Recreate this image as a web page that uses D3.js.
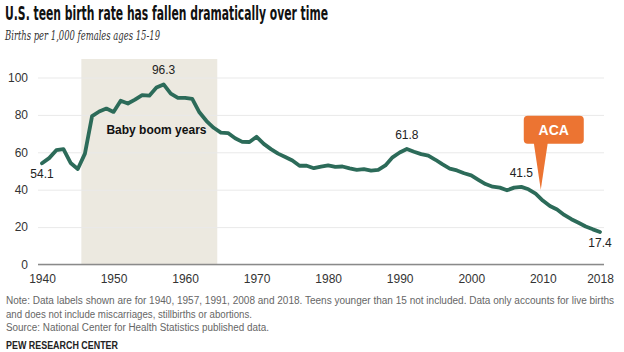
<!DOCTYPE html>
<html>
<head>
<meta charset="utf-8">
<script src="https://cdn.jsdelivr.net/npm/d3@7"></script>
<style>
  html, body { margin: 0; padding: 0; background: #fff; }
  svg { display: block; }
</style>
</head>
<body>
<svg id="chart" width="624" height="352"></svg>
<script>
// ---- Data ----
const years = [1940,1941,1942,1943,1944,1945,1946,1947,1948,1949,
  1950,1951,1952,1953,1954,1955,1956,1957,1958,1959,
  1960,1961,1962,1963,1964,1965,1966,1967,1968,1969,
  1970,1971,1972,1973,1974,1975,1976,1977,1978,1979,
  1980,1981,1982,1983,1984,1985,1986,1987,1988,1989,
  1990,1991,1992,1993,1994,1995,1996,1997,1998,1999,
  2000,2001,2002,2003,2004,2005,2006,2007,2008,2009,
  2010,2011,2012,2013,2014,2015,2016,2017,2018];
const rates = [54.1,56.9,61.1,61.7,54.3,51.1,59.3,79.3,81.8,83.4,
  81.6,87.6,86.1,88.2,90.6,90.3,94.6,96.3,91.4,89.1,
  89.1,88.6,81.4,76.7,73.1,70.5,70.3,67.5,65.6,65.5,
  68.3,64.5,61.7,59.3,57.5,55.6,52.8,52.8,51.5,52.3,
  53.0,52.2,52.4,51.4,50.6,51.0,50.2,50.6,53.0,57.3,
  59.9,61.8,60.3,59.0,58.2,56.0,53.5,51.3,50.3,48.8,
  47.7,45.3,43.0,41.6,41.1,39.7,41.1,41.5,40.2,37.9,
  34.2,31.3,29.4,26.5,24.2,22.3,20.3,18.8,17.4];
const yTicks = [0, 20, 40, 60, 80, 100];
const xTicks = [1940, 1950, 1960, 1970, 1980, 1990, 2000, 2010, 2018];
const labelYears = [1940, 1957, 1991, 2007, 2018];
const labelSide  = ["below", "above", "above", "above", "below"];
const boomYears = [1946, 1964];
const boomLabel = "Baby boom years";
const acaYear = 2010;
const acaLabel = "ACA";
const title = "U.S. teen birth rate has fallen dramatically over time";
const subtitle = "Births per 1,000 females ages 15-19";
const notes = [
  "Note: Data labels shown are for 1940, 1957, 1991, 2008 and 2018. Teens younger than 15 not included. Data only accounts for live births",
  "and does not include miscarriages, stillbirths or abortions.",
  "Source: National Center for Health Statistics published data."
];
const credit = "PEW RESEARCH CENTER";

// ---- Setup ----
const svg = d3.select("#chart");
const sans = "'Liberation Sans', Arial, sans-serif";
const x = d3.scaleLinear().domain([1940, 2018]).range([42, 600]);
const y = d3.scaleLinear().domain([0, 100]).range([264.5, 77.5]);
const data = years.map((yr, i) => ({ year: yr, value: rates[i] }));

// Title & subtitle
svg.append("text").attr("x", 5).attr("y", 20)
  .attr("font-family", "'Liberation Sans Narrow', 'DejaVu Sans Condensed', Arial, sans-serif")
  .attr("font-weight", "bold").attr("font-size", 20).attr("fill", "#111")
  .attr("textLength", 323).attr("lengthAdjust", "spacingAndGlyphs")
  .text(title);
svg.append("text").attr("x", 5).attr("y", 39.5)
  .attr("font-family", "'DejaVu Serif', 'Liberation Serif', serif")
  .attr("font-style", "italic").attr("font-size", 12.5).attr("fill", "#333")
  .attr("textLength", 155).attr("lengthAdjust", "spacingAndGlyphs")
  .text(subtitle);

// Baby boom shading
svg.append("rect")
  .attr("x", x(boomYears[0] - 0.5))
  .attr("width", x(boomYears[1] + 0.5) - x(boomYears[0] - 0.5))
  .attr("y", 59)
  .attr("height", y(0) - 59)
  .attr("fill", "#ECE9E0");

// Y axis with gridlines
const gridLeft = 38, gridRight = 604;
const yAxis = svg.append("g")
  .attr("transform", `translate(${gridLeft},0)`)
  .call(d3.axisLeft(y).tickValues(yTicks).tickSize(-(gridRight - gridLeft)).tickPadding(10));
yAxis.select(".domain").remove();
yAxis.selectAll(".tick line").attr("stroke", "#e9e9e9").attr("stroke-width", 1);
yAxis.selectAll(".tick text").attr("font-family", sans).attr("font-size", 12).attr("fill", "#333");

// X axis
const xAxis = svg.append("g")
  .attr("transform", `translate(0,${y(0)})`)
  .call(d3.axisBottom(x).tickValues(xTicks).tickFormat(d3.format("d")).tickSize(0).tickPadding(10));
xAxis.select(".domain").remove();
xAxis.selectAll(".tick text").attr("font-family", sans).attr("font-size", 12).attr("fill", "#333");
svg.append("line")
  .attr("x1", gridLeft).attr("x2", gridRight)
  .attr("y1", y(0)).attr("y2", y(0))
  .attr("stroke", "#8a8a8a").attr("stroke-width", 1.5);

// Baby boom label
svg.append("text")
  .attr("x", x(1956)).attr("y", y(70))
  .attr("text-anchor", "middle")
  .attr("font-family", sans).attr("font-weight", "bold").attr("font-size", 12).attr("fill", "#111")
  .text(boomLabel);

// Line
const line = d3.line().x(d => x(d.year)).y(d => y(d.value)).curve(d3.curveLinear);
svg.append("path").datum(data)
  .attr("d", line)
  .attr("fill", "none")
  .attr("stroke", "#2C6B59")
  .attr("stroke-width", 3.8)
  .attr("stroke-linejoin", "round")
  .attr("stroke-linecap", "round");

// Data labels
labelYears.forEach((yr, i) => {
  const d = data.find(p => p.year === yr);
  svg.append("text")
    .attr("x", x(d.year))
    .attr("y", y(d.value) + (labelSide[i] === "above" ? -10 : 15))
    .attr("text-anchor", "middle")
    .attr("font-family", sans).attr("font-size", 12).attr("fill", "#222")
    .text(d.value.toFixed(1));
});

// ACA callout
const tipX = x(acaYear) - 2, tipY = y(40);
const boxL = tipX - 17, boxR = tipX + 43, boxT = tipY - 74, boxB = tipY - 46;
const acaG = svg.append("g");
acaG.append("rect")
  .attr("x", boxL).attr("y", boxT)
  .attr("width", boxR - boxL).attr("height", boxB - boxT)
  .attr("rx", 4).attr("fill", "#EC7432");
acaG.append("path")
  .attr("d", `M${tipX - 7},${boxB - 1} L${tipX + 7},${boxB - 1} L${tipX},${tipY} Z`)
  .attr("fill", "#EC7432");
acaG.append("text")
  .attr("x", (boxL + boxR) / 2).attr("y", boxB - 8.5)
  .attr("text-anchor", "middle")
  .attr("font-family", sans).attr("font-weight", "bold").attr("font-size", 14).attr("fill", "#fff")
  .text(acaLabel);

// Notes
const noteLens = [608, 246, 263];
const noteYs = [304, 317.5, 331];
notes.forEach((t, i) => {
  svg.append("text").attr("x", 6).attr("y", noteYs[i])
    .attr("font-family", sans)
    .attr("font-size", 10).attr("fill", "#666")
    .attr("textLength", noteLens[i]).attr("lengthAdjust", "spacingAndGlyphs")
    .text(t);
});
svg.append("text").attr("x", 6).attr("y", 349)
  .attr("font-family", sans)
  .attr("font-weight", "bold").attr("font-size", 10).attr("fill", "#222")
  .attr("textLength", 112).attr("lengthAdjust", "spacingAndGlyphs")
  .text(credit);
</script>
</body>
</html>
